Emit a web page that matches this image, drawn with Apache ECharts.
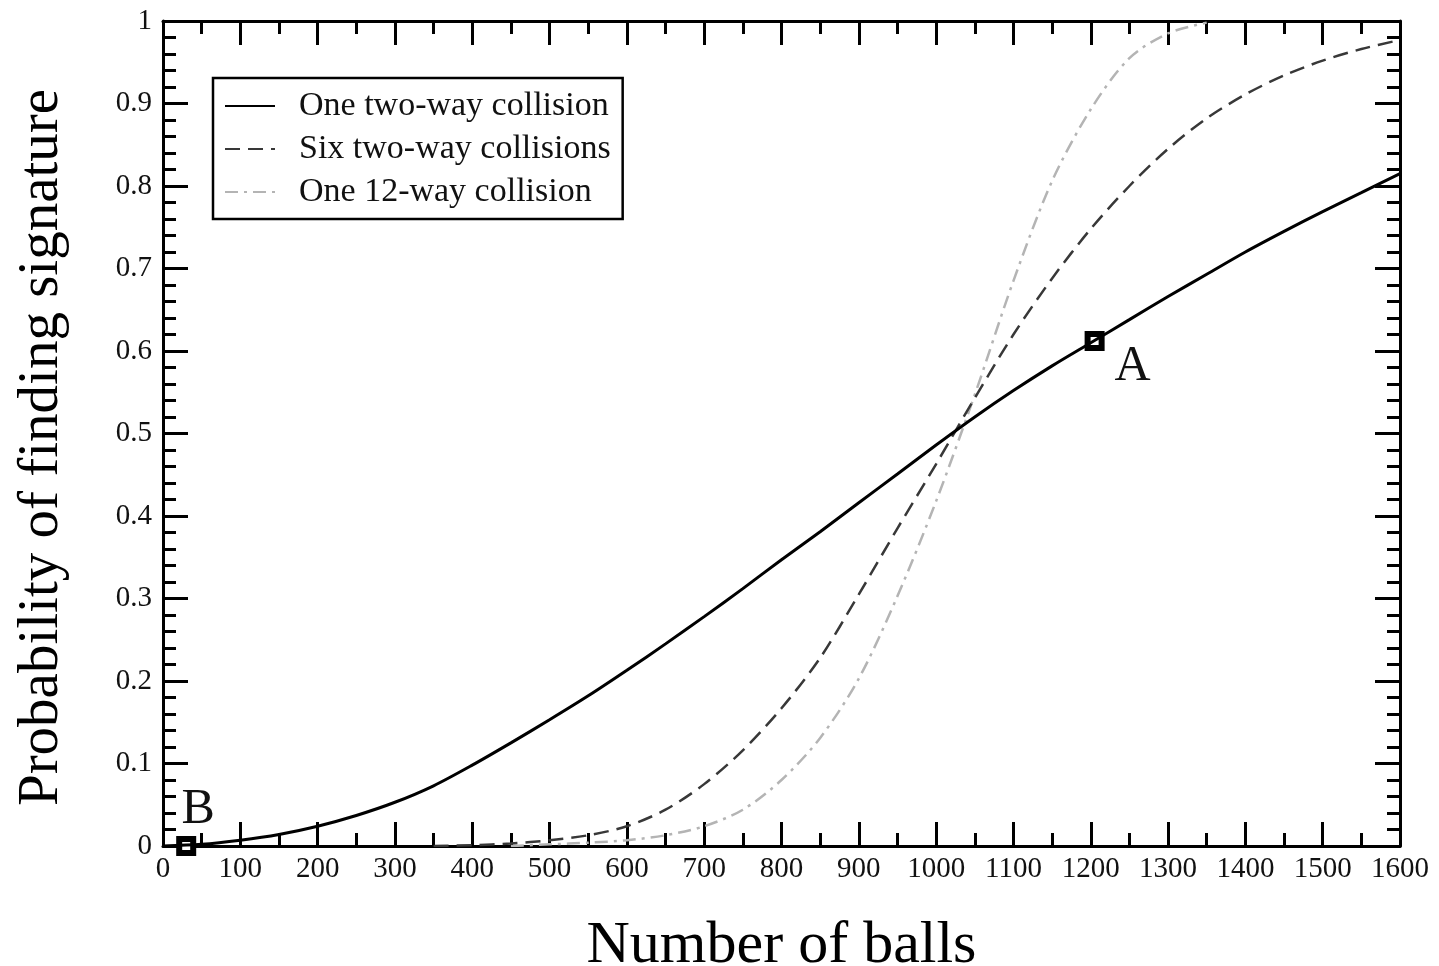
<!DOCTYPE html>
<html>
<head>
<meta charset="utf-8">
<title>Probability of finding signature</title>
<script src="https://cdn.jsdelivr.net/npm/echarts@6/dist/echarts.min.js"></script>
<style>
  html, body { margin: 0; padding: 0; background: #fff; }
  #chart { width: 1439px; height: 966px; }
</style>
</head>
<body>
<div id="chart"></div>
<script>
  // number of balls, every 50
  var ballCounts = [0, 50, 100, 150, 200, 250, 300, 350, 400, 450, 500, 550, 600, 650, 700, 750, 800,
    850, 900, 950, 1000, 1050, 1100, 1150, 1200, 1250, 1300, 1350, 1400, 1450, 1500, 1550, 1600]

  var oneTwoWay = [0, 0.002, 0.007, 0.014, 0.024, 0.037, 0.053, 0.073, 0.098, 0.125, 0.153, 0.182, 0.213,
    0.245, 0.278, 0.312, 0.347, 0.381, 0.416, 0.451, 0.486, 0.52, 0.552, 0.582, 0.61, 0.638, 0.666,
    0.693, 0.72, 0.745, 0.769, 0.792, 0.815]

  var sixTwoWay = [null, null, null, null, null, null, null, 0, 0.001, 0.003, 0.007, 0.013, 0.024,
    0.044, 0.075, 0.116, 0.167, 0.228, 0.305, 0.385, 0.463, 0.543, 0.62, 0.688, 0.748, 0.8, 0.845,
    0.882, 0.911, 0.934, 0.952, 0.966, 0.977]

  var oneTwelveWay = [null, null, null, null, null, null, null, null, null, 0, 0.002, 0.004, 0.007,
    0.013, 0.024, 0.044, 0.08, 0.131, 0.203, 0.303, 0.418, 0.547, 0.685, 0.806, 0.893, 0.955, 0.985,
    0.998, null, null, null, null, null]

  var seriesNames = ['One two-way collision', 'Six two-way collisions', 'One 12-way collision']

  var markedPoints = [
    { name: 'A', coord: [1205, 0.612] },
    { name: 'B', coord: [30, 0] }
  ]

  function pairs(values) {
    var out = []
    ballCounts.forEach(function (x, i) {
      if (values[i] !== null) out.push([x, values[i]])
    })
    return out
  }

  var serif = 'Liberation Serif, DejaVu Serif, serif'

  function makeX(pos, showLabel) {
    return {
      type: 'value',
      position: pos,
      min: 0,
      max: 1600,
      interval: 100,
      name: showLabel ? 'Number of balls' : '',
      nameLocation: 'middle',
      nameGap: 70,
      nameTextStyle: { fontFamily: serif, fontSize: 60, color: '#000' },
      axisLine: { show: true, onZero: false, lineStyle: { color: '#000', width: 3 } },
      axisTick: { show: true, inside: true, length: 24, lineStyle: { color: '#000', width: 3 } },
      minorTick: { show: true, splitNumber: 2, length: 13, lineStyle: { color: '#000', width: 3 } },
      axisLabel: {
        show: showLabel, margin: 9, fontFamily: serif, fontSize: 29, color: '#111',
        formatter: function (v) { return String(v) }
      },
      splitLine: { show: false },
      minorSplitLine: { show: false }
    }
  }

  function makeY(pos, showLabel) {
    return {
      type: 'value',
      position: pos,
      min: 0,
      max: 1,
      interval: 0.1,
      name: showLabel ? 'Probability of finding signature' : '',
      nameLocation: 'middle',
      nameRotate: 90,
      nameGap: 92,
      nameTextStyle: { fontFamily: serif, fontSize: 57, color: '#000', padding: [0, 28, 0, 0] },
      axisLine: { show: true, onZero: false, lineStyle: { color: '#000', width: 3 } },
      axisTick: { show: true, inside: true, length: 25, lineStyle: { color: '#000', width: 3 } },
      minorTick: { show: true, splitNumber: 5, length: 13, lineStyle: { color: '#000', width: 3 } },
      axisLabel: {
        show: showLabel, margin: 11, fontFamily: serif, fontSize: 29, color: '#111',
        formatter: function (v) { return String(Math.round(v * 10) / 10) }
      },
      splitLine: { show: false },
      minorSplitLine: { show: false }
    }
  }

  var chart = echarts.init(document.getElementById('chart'))

  var option = {
    animation: false,
    backgroundColor: '#fff',
    grid: { left: 163, right: 39, top: 21, bottom: 120, outerBoundsMode: 'none', containLabel: false },
    legend: {
      orient: 'vertical',
      left: 213,
      top: 78,
      data: seriesNames,
      itemWidth: 50,
      itemHeight: 14,
      itemGap: 7,
      padding: [10, 12, 9, 11],
      borderColor: '#000',
      borderWidth: 2.5,
      backgroundColor: '#fff',
      selectedMode: false,
      itemStyle: { opacity: 0 },
      textStyle: { fontFamily: serif, fontSize: 34, lineHeight: 36, color: '#111', padding: [0, 0, 0, 19] }
    },
    xAxis: [makeX('bottom', true), makeX('top', false)],
    yAxis: [makeY('left', true), makeY('right', false)],
    series: [
      {
        name: seriesNames[2],
        type: 'line',
        z: 3,
        data: pairs(oneTwelveWay),
        smooth: 0.3,
        symbol: 'none',
        lineStyle: { color: '#b4b4b4', width: 2.5, type: [13, 6, 3, 6] },
        itemStyle: { color: '#b4b4b4' }
      },
      {
        name: seriesNames[1],
        type: 'line',
        z: 4,
        data: pairs(sixTwoWay),
        smooth: 0.3,
        symbol: 'none',
        lineStyle: { color: '#383838', width: 2.5, type: [15, 8] },
        itemStyle: { color: '#383838' }
      },
      {
        name: seriesNames[0],
        type: 'line',
        z: 5,
        data: pairs(oneTwoWay),
        smooth: 0.3,
        symbol: 'none',
        lineStyle: { color: '#000', width: 3 },
        itemStyle: { color: '#000' },
        markPoint: {
          symbol: 'rect',
          symbolSize: 14,
          itemStyle: { color: '#fff', borderColor: '#000', borderWidth: 6, opacity: 1 },
          label: {
            show: true,
            formatter: '{b}',
            fontFamily: serif,
            fontSize: 50,
            color: '#111'
          },
          data: markedPoints.map(function (p) {
            return {
              name: p.name,
              coord: p.coord,
              label: { offset: p.name === 'A' ? [38, 26] : [12, -36] }
            }
          })
        }
      }
    ]
  }

  chart.setOption(option)
</script>
</body>
</html>
